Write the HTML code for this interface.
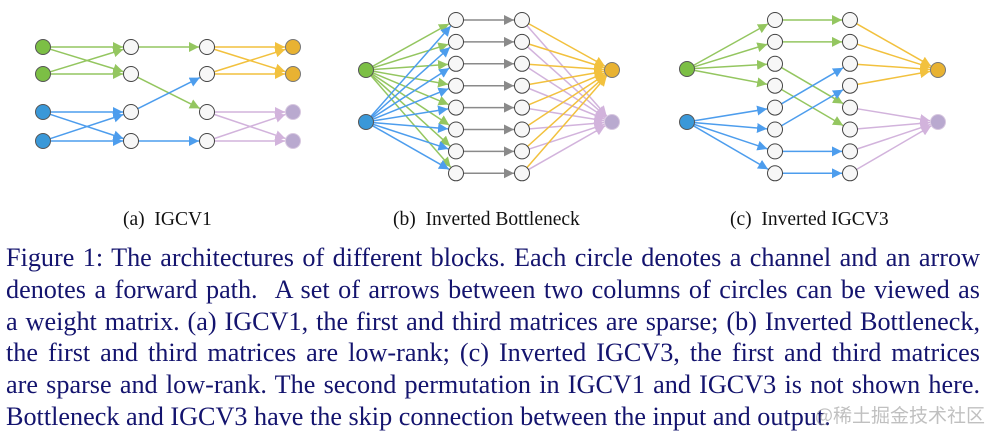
<!DOCTYPE html>
<html><head><meta charset="utf-8"><style>
body{margin:0;width:990px;height:438px;background:#fff;overflow:hidden;position:relative}
svg{position:absolute;left:0;top:0}
.sub{position:absolute;top:209px;font:19.5px "Liberation Serif",serif;color:#111;white-space:nowrap}
.cap{position:absolute;left:6px;width:974px;top:242px;font:26.2px/31.8px "Liberation Serif",serif;color:#14146e}
.cap div{text-align:justify;text-align-last:justify;white-space:nowrap;height:31.8px}
.cap div.last{text-align-last:left}
.wm{position:absolute;left:815px;top:401px;font:19px "Noto Sans CJK SC",sans-serif;color:rgba(150,150,150,0.6)}
</style></head><body>
<svg id="s" width="990" height="200" xmlns="http://www.w3.org/2000/svg"></svg>
<div class="sub" style="left:123px">(a)&nbsp; IGCV1</div>
<div class="sub" style="left:393px">(b)&nbsp; Inverted Bottleneck</div>
<div class="sub" style="left:730px">(c)&nbsp; Inverted IGCV3</div>
<div class="cap">
<div>Figure 1: The architectures of different blocks. Each circle denotes a channel and an arrow</div>
<div>denotes a forward path. &nbsp;A set of arrows between two columns of circles can be viewed as</div>
<div>a weight matrix. (a) IGCV1, the first and third matrices are sparse; (b) Inverted Bottleneck,</div>
<div>the first and third matrices are low-rank; (c) Inverted IGCV3, the first and third matrices</div>
<div>are sparse and low-rank. The second permutation in IGCV1 and IGCV3 is not shown here.</div>
<div class="last">Bottleneck and IGCV3 have the skip connection between the input and output.</div>
</div>
<div class="wm">@稀土掘金技术社区</div>
<script>
var s=document.getElementById('s'),out='';
var C={g:'#94c660',b:'#4d9ded',o:'#f2c13e',p:'#d2b3dc',k:'#8a8a8a'};
var defs='<defs>';for(var k in C){defs+='<marker id="m'+k+'" viewBox="0 0 10 10" refX="10" refY="5" markerWidth="10" markerHeight="10" markerUnits="userSpaceOnUse" orient="auto"><path d="M0,0L10,5L0,10z" fill="'+C[k]+'"/></marker>';}
defs+='</defs>';
var R=7.5;
function L(x1,y1,x2,y2,c){var dx=x2-x1,dy=y2-y1,d=Math.sqrt(dx*dx+dy*dy);
x1+=dx/d*R;y1+=dy/d*R;x2-=dx/d*(R+0.5);y2-=dy/d*(R+0.5);
out+='<line x1="'+x1+'" y1="'+y1+'" x2="'+x2+'" y2="'+y2+'" stroke="'+C[c]+'" stroke-width="1.5" marker-end="url(#m'+c+')"/>';}
var nodes='';
function N(x,y,f,st){nodes+='<circle cx="'+x+'" cy="'+y+'" r="'+R+'" fill="'+(f||'#f7f7f7')+'" stroke="'+(st||'#444')+'" stroke-width="1"/>';}
var ay=[47,74,112,141],ax=[43,131,207,293];
[[0,0],[0,1],[1,0],[1,1]].forEach(function(p){L(ax[0],ay[p[0]],ax[1],ay[p[1]],'g')});
[[2,2],[2,3],[3,2],[3,3]].forEach(function(p){L(ax[0],ay[p[0]],ax[1],ay[p[1]],'b')});
L(ax[1],ay[0],ax[2],ay[0],'g');L(ax[1],ay[1],ax[2],ay[2],'g');L(ax[1],ay[2],ax[2],ay[1],'b');L(ax[1],ay[3],ax[2],ay[3],'b');
[[0,0],[0,1],[1,0],[1,1]].forEach(function(p){L(ax[2],ay[p[0]],ax[3],ay[p[1]],'o')});
[[2,2],[2,3],[3,2],[3,3]].forEach(function(p){L(ax[2],ay[p[0]],ax[3],ay[p[1]],'p')});
N(ax[0],ay[0],'#7cbf45','#555');N(ax[0],ay[1],'#7cbf45','#555');N(ax[0],ay[2],'#3a98d8','#555');N(ax[0],ay[3],'#3a98d8','#555');
for(var i=0;i<4;i++){N(ax[1],ay[i]);N(ax[2],ay[i]);}
N(ax[3],ay[0],'#e8b232','#777');N(ax[3],ay[1],'#e8b232','#777');N(ax[3],ay[2],'#b9a9cf','#d8c8e0');N(ax[3],ay[3],'#b9a9cf','#d8c8e0');
var ry=[];for(i=0;i<8;i++)ry.push(20+i*21.9);
var bi=366,bm=456,bc=522,bo=612,y1=70,y2=122;
for(i=0;i<8;i++){L(bi,y1,bm,ry[i],'g');}
for(i=0;i<8;i++){L(bi,y2,bm,ry[i],'b');}
for(i=0;i<8;i++){L(bm,ry[i],bc,ry[i],'k');}
for(i=0;i<8;i++){L(bc,ry[i],bo,y2,'p');}
for(i=0;i<8;i++){L(bc,ry[i],bo,y1,'o');}
N(bi,y1,'#7cbf45','#555');N(bi,y2,'#3a98d8','#555');
for(i=0;i<8;i++){N(bm,ry[i]);N(bc,ry[i]);}
N(bo,y1,'#e8b232','#777');N(bo,y2,'#b9a9cf','#d8c8e0');
var ci=687,cm=775,cc=850,co=938;
for(i=0;i<4;i++)L(ci,69,cm,ry[i],'g');
for(i=4;i<8;i++)L(ci,122,cm,ry[i],'b');
L(cm,ry[0],cc,ry[0],'g');L(cm,ry[1],cc,ry[1],'g');L(cm,ry[2],cc,ry[4],'g');L(cm,ry[3],cc,ry[5],'g');
L(cm,ry[4],cc,ry[2],'b');L(cm,ry[5],cc,ry[3],'b');L(cm,ry[6],cc,ry[6],'b');L(cm,ry[7],cc,ry[7],'b');
for(i=0;i<4;i++)L(cc,ry[i],co,70,'o');
for(i=4;i<8;i++)L(cc,ry[i],co,122,'p');
N(ci,69,'#7cbf45','#555');N(ci,122,'#3a98d8','#555');
for(i=0;i<8;i++){N(cm,ry[i]);N(cc,ry[i]);}
N(co,70,'#e8b232','#777');N(co,122,'#b9a9cf','#d8c8e0');
s.innerHTML=defs+out+nodes;
</script>
</body></html>
